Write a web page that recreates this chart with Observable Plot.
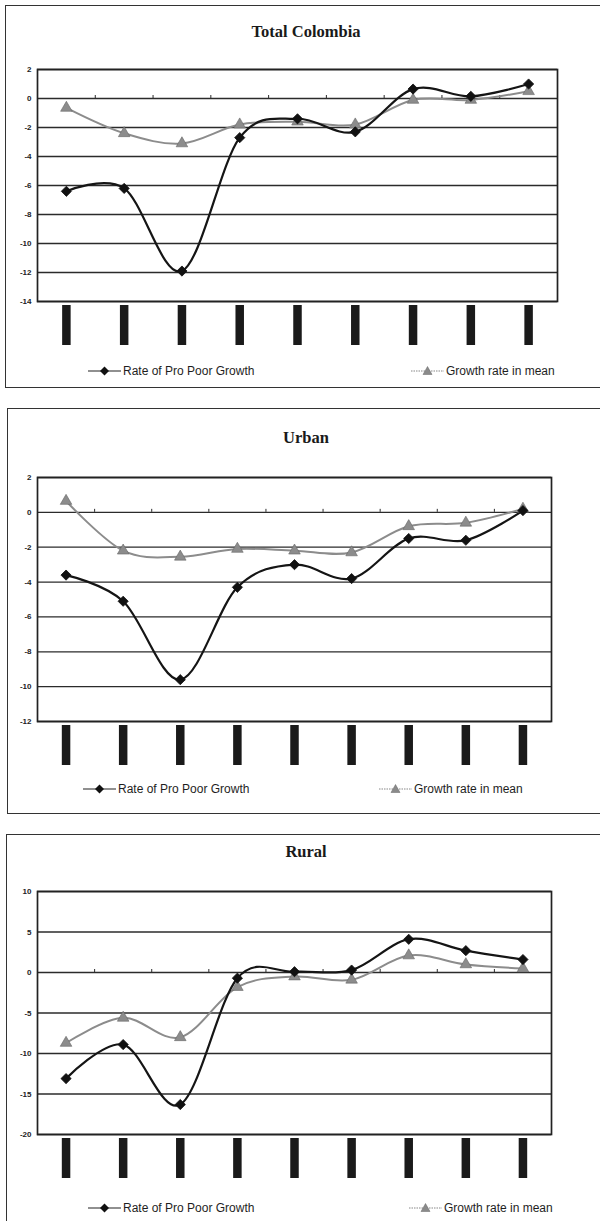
<!DOCTYPE html>
<html>
<head>
<meta charset="utf-8">
<script src="https://cdn.jsdelivr.net/npm/d3@7"></script>
<script src="https://cdn.jsdelivr.net/npm/@observablehq/plot@0.6"></script>
<style>
  html, body { margin: 0; padding: 0; background: #fff; overflow: hidden; }
  body { position: relative; width: 600px; height: 1221px; overflow: hidden; font-family: "Liberation Sans", Arial, sans-serif; color: #222; }
  .box { position: absolute; width: 660px; border: 1.6px solid #333; box-sizing: border-box; }
  .title { position: absolute; left: 0; width: 612px; text-align: center; font-family: "Liberation Serif", "Times New Roman", serif; font-weight: bold; font-size: 16.5px; line-height: 18px; color: #1a1a1a; }
  .chart { position: absolute; left: 0; }
  .leg { position: absolute; display: flex; align-items: center; font-size: 12px; line-height: 14px; color: #1e1e1e; white-space: nowrap; }
  .leg svg { display: block; margin-right: 2px; }
</style>
</head>
<body>
<script>
// Category labels are blacked out in the source; one placeholder per period.
const categories = ["P1", "P2", "P3", "P4", "P5", "P6", "P7", "P8", "P9"];

const seriesNames = ["Rate of Pro Poor Growth", "Growth rate in mean"];

const totalPro  = [-6.4, -6.2, -11.9, -2.7, -1.4, -2.3, 0.65, 0.15, 1.0];
const totalMean = [-0.65, -2.4, -3.1, -1.8, -1.6, -1.8, -0.1, -0.1, 0.5];
const totalTicks = [2, 0, -2, -4, -6, -8, -10, -12, -14];

const urbanPro  = [-3.6, -5.1, -9.6, -4.3, -3.0, -3.8, -1.5, -1.6, 0.1];
const urbanMean = [0.65, -2.2, -2.55, -2.1, -2.2, -2.3, -0.8, -0.6, 0.2];
const urbanTicks = [2, 0, -2, -4, -6, -8, -10, -12];

const ruralPro  = [-13.1, -8.9, -16.3, -0.7, 0.1, 0.3, 4.1, 2.7, 1.6];
const ruralMean = [-8.7, -5.6, -8.0, -1.8, -0.5, -0.9, 2.1, 1.0, 0.5];
const ruralTicks = [10, 5, 0, -5, -10, -15, -20];

const panels = [
  {title: "Total Colombia", pro: totalPro, mean: totalMean, ticks: totalTicks,
   box: {left: 5, top: 5, height: 383}, titleY: 23,
   svgTop: 50, height: 300, mt: 19, mb: 49, mr: 43,
   legY: 371, legL: 88, legR: 411},
  {title: "Urban", pro: urbanPro, mean: urbanMean, ticks: urbanTicks,
   box: {left: 7, top: 408, height: 406}, titleY: 429,
   svgTop: 455, height: 320, mt: 22, mb: 54, mr: 49,
   legY: 789, legL: 83, legR: 379},
  {title: "Rural", pro: ruralPro, mean: ruralMean, ticks: ruralTicks,
   box: {left: 6, top: 834, height: 420}, titleY: 843,
   svgTop: 870, height: 320, mt: 21, mb: 56, mr: 49,
   legY: 1208, legL: 88, legR: 409}
];

function legendItem(kind, label, x, y) {
  const div = document.createElement("div");
  div.className = "leg";
  div.style.left = x + "px";
  div.style.top = (y - 7) + "px";
  const ns = "http://www.w3.org/2000/svg";
  const s = document.createElementNS(ns, "svg");
  s.setAttribute("width", 33); s.setAttribute("height", 12);
  const ln = document.createElementNS(ns, "line");
  ln.setAttribute("x1", 0); ln.setAttribute("x2", 33);
  ln.setAttribute("y1", 6); ln.setAttribute("y2", 6);
  if (kind === "pro") {
    ln.setAttribute("stroke", "#222"); ln.setAttribute("stroke-width", 1.2);
  } else {
    ln.setAttribute("stroke", "#888"); ln.setAttribute("stroke-width", 1.2);
    ln.setAttribute("stroke-dasharray", "1.5,1");
  }
  s.appendChild(ln);
  const m = document.createElementNS(ns, "path");
  if (kind === "pro") {
    m.setAttribute("d", "M16.5,1.5 L21,6 L16.5,10.5 L12,6 Z");
    m.setAttribute("fill", "#111");
  } else {
    m.setAttribute("d", "M16.5,1.5 L21,9.5 L12,9.5 Z");
    m.setAttribute("fill", "#8a8a8a"); m.setAttribute("stroke", "#666"); m.setAttribute("stroke-width", 0.5);
  }
  s.appendChild(m);
  div.appendChild(s);
  const t = document.createElement("span");
  t.textContent = label;
  div.appendChild(t);
  document.body.appendChild(div);
}

for (const p of panels) {
  const box = document.createElement("div");
  box.className = "box";
  box.style.left = p.box.left + "px";
  box.style.top = p.box.top + "px";
  box.style.height = p.box.height + "px";
  document.body.appendChild(box);

  const title = document.createElement("div");
  title.className = "title";
  title.style.top = p.titleY + "px";
  title.textContent = p.title;
  document.body.appendChild(title);

  const n = categories.length;
  const rows = categories.map((c, i) => ({c, i, pro: p.pro[i], mean: p.mean[i]}));
  const ymin = d3.min(p.ticks), ymax = d3.max(p.ticks);
  const frameH = p.height - p.mt - p.mb;
  const upp = (ymax - ymin) / frameH; // data units per pixel
  const xf = d => d.i + 0.5;

  const chart = Plot.plot({
    width: 600,
    height: p.height,
    marginTop: p.mt,
    marginBottom: p.mb,
    marginLeft: 37,
    marginRight: p.mr,
    style: {fontFamily: "'Liberation Sans', Arial, sans-serif", fontSize: "8px", background: "transparent", color: "#222"},
    x: {domain: [0, n], axis: null},
    y: {domain: [ymin, ymax]},
    marks: [
      Plot.ruleY(p.ticks, {stroke: "#2b2b2b", strokeWidth: 1.3}),
      Plot.ruleX(d3.range(1, n), {x: d => d, y1: 0, y2: 3 * upp, stroke: "#2b2b2b", strokeWidth: 1}),
      Plot.frame({stroke: "#222", strokeWidth: 1.7}),
      Plot.axisY({ticks: p.ticks, tickSize: 0, tickPadding: 6, fontSize: 8, fontWeight: "bold", tickFormat: d => String(d), label: null}),
      Plot.ruleX(rows, {x: xf, y1: ymin - 4 * upp, y2: ymin - 44 * upp, stroke: "#1a1a1a", strokeWidth: 8.5}),
      Plot.line(rows, {x: xf, y: "mean", curve: "cardinal", stroke: "#8c8c8c", strokeWidth: 2}),
      Plot.line(rows, {x: xf, y: "pro", curve: "cardinal", stroke: "#151515", strokeWidth: 2.2}),
      Plot.dot(rows, {x: xf, y: "mean", symbol: "triangle", r: 4.3, fill: "#8c8c8c", stroke: "#666", strokeWidth: 0.6}),
      Plot.dot(rows, {x: xf, y: "pro", symbol: "diamond2", r: 4.6, fill: "#111", stroke: "#111", strokeWidth: 0.8})
    ]
  });
  chart.classList.add("chart");
  chart.style.position = "absolute";
  chart.style.left = "0px";
  chart.style.top = p.svgTop + "px";
  document.body.appendChild(chart);

  legendItem("pro", seriesNames[0], p.legL, p.legY);
  legendItem("mean", seriesNames[1], p.legR, p.legY);
}
</script>
</body>
</html>
